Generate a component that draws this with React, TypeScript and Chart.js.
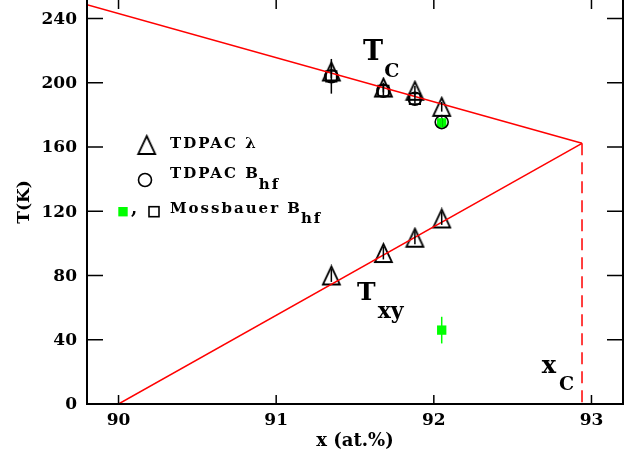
import React, { useEffect, useRef } from "react";
import { Chart, registerables } from "chart.js";
Chart.register(...registerables);

const FONT = '"DejaVu Serif", serif';

const xTicks = [90, 91, 92, 93];
const yTicks = [0, 40, 80, 120, 160, 200, 240];

const xSamples = [91.35, 91.68, 91.88, 92.05];
const tcLambda = [207, 197, 195, 185];
const tcLambdaErr = [4, 3, 3, 3];
const txyLambda = [80, 94, 103.5, 115.5];
const txyLambdaErr = [4, 4, 4, 4];
const tcBhf = [204, 195, 190, 175.5];
const tcBhfErr = [10.8, 3, 3, 3];
const xMossOpen = [91.35, 91.68, 91.88];
const tcMossOpen = [204, 195, 190];
const xMossGreen = [92.05, 92.05];
const tMossGreen = [175, 46];
const tMossGreenErr = [3, 8.3];

const tcLineX = [89.8, 92.94];
const tcLineY = [248.5, 162.3];
const txyLineX = [90, 92.94];
const txyLineY = [0, 162.3];
const xcLineX = [92.94, 92.94];
const xcLineY = [162.3, 0];

const pts = (xs: number[], ys: number[]) => xs.map((x, i) => ({ x, y: ys[i] }));

function makeTriangle(w = 17, h = 18, lw = 1.8) {
  const c = document.createElement("canvas");
  c.width = w + 4;
  c.height = h + 4;
  const ctx = c.getContext("2d")!;
  ctx.strokeStyle = "#000";
  ctx.lineWidth = lw;
  ctx.lineJoin = "miter";
  ctx.beginPath();
  ctx.moveTo(c.width / 2, 2);
  ctx.lineTo(2 + w, 2 + h);
  ctx.lineTo(2, 2 + h);
  ctx.closePath();
  ctx.stroke();
  return c;
}

function drawSub(
  ctx: CanvasRenderingContext2D,
  main: string,
  sub: string,
  x: number,
  y: number,
  mainFont: string,
  subFont: string,
  gap: number,
  dy: number,
  spacing = "0px"
) {
  ctx.save();
  (ctx as any).letterSpacing = spacing;
  ctx.fillStyle = "#000";
  ctx.textAlign = "left";
  ctx.textBaseline = "alphabetic";
  ctx.font = mainFont;
  ctx.fillText(main, x, y);
  const w = ctx.measureText(main).width;
  ctx.font = subFont;
  ctx.fillText(sub, x + w + gap, y + dy);
  ctx.restore();
}

export default function App() {
  const ref = useRef<HTMLCanvasElement>(null);
  useEffect(() => {
    const tri = makeTriangle();
    const errorSets = [
      { xs: xSamples, ys: tcLambda, errs: tcLambdaErr, color: "#000" },
      { xs: xSamples, ys: txyLambda, errs: txyLambdaErr, color: "#000" },
      { xs: xSamples, ys: tcBhf, errs: tcBhfErr, color: "#000" },
      { xs: xMossGreen, ys: tMossGreen, errs: tMossGreenErr, color: "#00ff00" },
    ];
    const errPlugin = {
      id: "errbars",
      afterDatasetsDraw(chart: any) {
        const { ctx, scales } = chart;
        const xs = scales.x, ys = scales.y;
        ctx.save();
        ctx.lineWidth = 1.5;
        errorSets.forEach((s) => {
          ctx.strokeStyle = s.color;
          s.xs.forEach((xv, i) => {
            const px = xs.getPixelForValue(xv);
            ctx.beginPath();
            ctx.moveTo(px, ys.getPixelForValue(s.ys[i] - s.errs[i]));
            ctx.lineTo(px, ys.getPixelForValue(s.ys[i] + s.errs[i]));
            ctx.stroke();
          });
        });
        ctx.restore();
      },
    };
    const framePlugin = {
      id: "frame",
      afterDraw(chart: any) {
        const { ctx, chartArea: a, scales } = chart;
        ctx.save();
        ctx.strokeStyle = "#000";
        ctx.lineWidth = 2;
        ctx.beginPath();
        ctx.moveTo(a.left, a.top - 2);
        ctx.lineTo(a.left, a.bottom);
        ctx.lineTo(a.right, a.bottom);
        ctx.lineTo(a.right, a.top - 2);
        ctx.moveTo(a.left, a.top - 1);
        ctx.lineTo(a.right, a.top - 1);
        ctx.stroke();
        ctx.lineWidth = 1.5;
        ctx.beginPath();
        scales.y.ticks.forEach((t: any) => {
          const py = scales.y.getPixelForValue(t.value);
          ctx.moveTo(a.left, py);
          ctx.lineTo(a.left + 16, py);
          ctx.moveTo(a.right, py);
          ctx.lineTo(a.right - 16, py);
        });
        scales.x.ticks.forEach((t: any) => {
          const px = scales.x.getPixelForValue(t.value);
          ctx.moveTo(px, a.bottom);
          ctx.lineTo(px, a.bottom - 9);
          ctx.moveTo(px, a.top);
          ctx.lineTo(px, a.top + 9);
        });
        ctx.stroke();
        // y tick labels
        ctx.fillStyle = "#000";
        ctx.font = `bold 17px ${FONT}`;
        ctx.textAlign = "right";
        ctx.textBaseline = "middle";
        scales.y.ticks.forEach((t: any) => {
          const py = scales.y.getPixelForValue(t.value);
          ctx.fillText(String(t.value), a.left - 10, py + 1);
        });
        ctx.restore();
      },
    };
    const textPlugin = {
      id: "texts",
      afterDatasetsDraw(chart: any) {
        const { ctx, scales, chartArea: a } = chart;
        const X = (v: number) => scales.x.getPixelForValue(v);
        const Y = (v: number) => scales.y.getPixelForValue(v);
        drawSub(ctx, "T", "C", X(91.551), Y(214.1), `bold 27px ${FONT}`, `bold 19px ${FONT}`, 1, 17);
        drawSub(ctx, "T", "xy", X(91.513), Y(64.7), `bold 25px ${FONT}`, `bold 22px ${FONT}`, 2, 17.5);
        drawSub(ctx, "x", "C", X(92.684), Y(19.3), `bold 24px ${FONT}`, `bold 19px ${FONT}`, 3, 17);

        // legend
        const L = a.left, T = a.top;
        ctx.save();
        ctx.drawImage(tri, L + 59.7 - tri.width / 2, T + 145 - tri.height / 2);
        ctx.strokeStyle = "#000";
        ctx.lineWidth = 1.6;
        ctx.beginPath();
        ctx.arc(L + 58, T + 180, 6.5, 0, Math.PI * 2);
        ctx.stroke();
        ctx.fillStyle = "#00ff00";
        ctx.fillRect(L + 36 - 4.7, T + 211.7 - 4.7, 9.4, 9.4);
        ctx.strokeRect(L + 67 - 5, T + 211.7 - 5, 10, 10);
        ctx.fillStyle = "#000";
        ctx.font = `bold 18px ${FONT}`;
        ctx.textBaseline = "alphabetic";
        ctx.fillText(",", L + 44, T + 214);
        ctx.restore();

        ctx.save();
        (ctx as any).letterSpacing = "2px";
        ctx.fillStyle = "#000";
        ctx.font = `bold 15px ${FONT}`;
        ctx.textBaseline = "alphabetic";
        ctx.fillText("TDPAC λ", L + 83, T + 148.3);
        ctx.restore();
        drawSub(ctx, "TDPAC B", "hf", L + 83, T + 178, `bold 15px ${FONT}`, `bold 15px ${FONT}`, -1, 11, "2px");
        drawSub(ctx, "Mossbauer B", "hf", L + 83, T + 213.3, `bold 15px ${FONT}`, `bold 15px ${FONT}`, -1, 10, "2px");
      },
    };

    const chart = new Chart(ref.current!, {
      type: "scatter",
      data: {
        datasets: [
          { data: pts(tcLineX, tcLineY), showLine: true, borderColor: "#ff0000", borderWidth: 1.5, pointRadius: 0 },
          { data: pts(txyLineX, txyLineY), showLine: true, borderColor: "#ff0000", borderWidth: 1.5, pointRadius: 0 },
          { data: pts(xcLineX, xcLineY), showLine: true, borderColor: "#ff0000", borderWidth: 1.5, borderDash: [12, 7], pointRadius: 0 },
          { data: pts(xSamples, tcLambda), pointStyle: tri as any, pointRadius: 9, borderColor: "#000" },
          { data: pts(xSamples, txyLambda), pointStyle: tri as any, pointRadius: 9, borderColor: "#000" },
          { data: pts(xSamples, tcBhf), pointStyle: "circle", pointRadius: 6.5, borderWidth: 1.6, borderColor: "#000", backgroundColor: "rgba(0,0,0,0)" },
          { data: pts(xMossOpen, tcMossOpen), pointStyle: "rect", pointRadius: 7.5, borderWidth: 1.6, borderColor: "#000", backgroundColor: "rgba(0,0,0,0)" },
          { data: pts(xMossGreen, tMossGreen), pointStyle: "rect", pointRadius: 6.6, borderWidth: 0, borderColor: "#00ff00", backgroundColor: "#00ff00" },
        ] as any,
      },
      options: {
        animation: false,
        responsive: false,
        events: [],
        layout: { autoPadding: false, padding: { top: 0, right: 10, left: 0, bottom: 0 } },
        plugins: { legend: { display: false }, tooltip: { enabled: false } },
        scales: {
          x: {
            type: "linear",
            min: 89.8,
            max: 93.2,
            afterFit: (s: any) => { s.height = 53; s.paddingLeft = 0; s.paddingRight = 0; },
            afterBuildTicks: (s: any) => { s.ticks = xTicks.map((v) => ({ value: v })); },
            grid: { display: false, drawTicks: false },
            border: { display: false },
            ticks: { padding: 6, color: "#000", font: { family: FONT, size: 17, weight: "bold" }, callback: (v: any) => String(v) },
            title: { display: true, text: "x (at.%)", color: "#000", font: { family: FONT, size: 18, weight: "bold" }, padding: { top: 0, bottom: 5 } },
          },
          y: {
            type: "linear",
            min: 0,
            max: 251.5,
            afterFit: (s: any) => { s.width = 87; s.paddingTop = 0; s.paddingBottom = 0; },
            afterBuildTicks: (s: any) => { s.ticks = yTicks.map((v) => ({ value: v })); },
            grid: { display: false, drawTicks: false },
            border: { display: false },
            ticks: { display: false, padding: 0 },
            title: { display: true, text: "T(K)", color: "#000", font: { family: FONT, size: 17, weight: "bold" }, padding: { top: 14, bottom: 0 } },
          },
        },
      } as any,
      plugins: [errPlugin, textPlugin, framePlugin],
    });
    return () => chart.destroy();
  }, []);
  return (
    <div style={{ position: "absolute", left: 0, top: 0, width: 633, height: 457 }}>
      <canvas ref={ref} width={633} height={457} style={{ display: "block" }} />
    </div>
  );
}
